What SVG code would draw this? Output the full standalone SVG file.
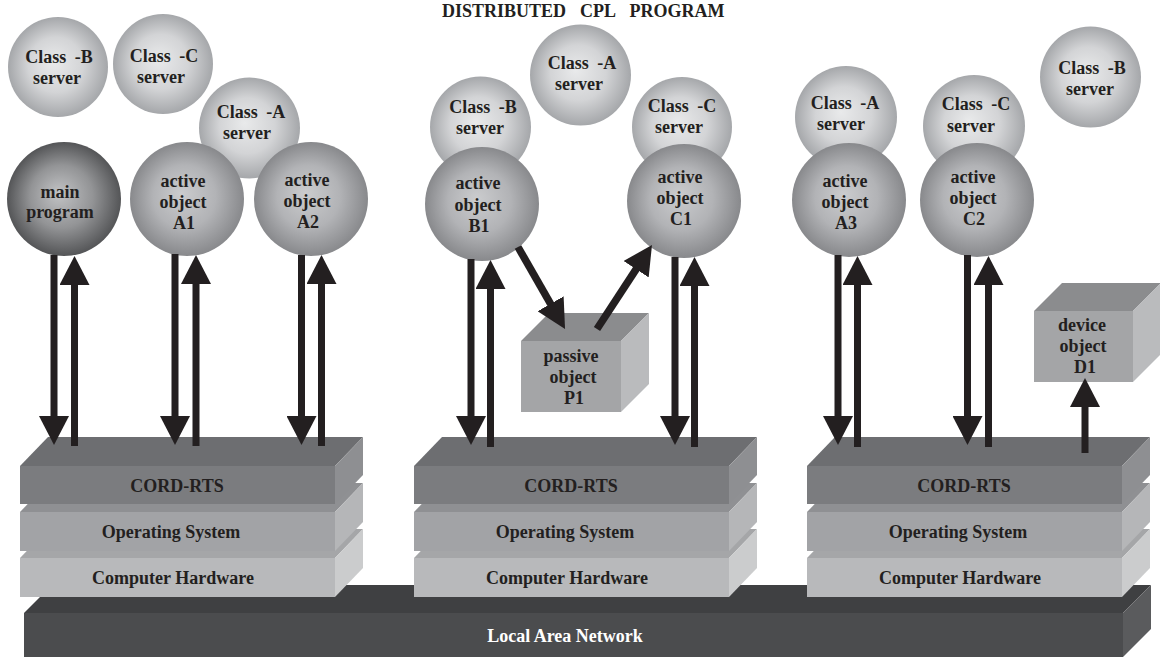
<svg xmlns="http://www.w3.org/2000/svg" width="1160" height="660" viewBox="0 0 1160 660">
<defs>
<radialGradient id="gSrv" cx="50%" cy="50%" r="50%" fx="45%" fy="45%">
<stop offset="0" stop-color="#e9eaeb"/><stop offset="0.55" stop-color="#d3d4d6"/><stop offset="1" stop-color="#a5a7aa"/>
</radialGradient>
<radialGradient id="gAct" cx="50%" cy="50%" r="50%" fx="45%" fy="45%">
<stop offset="0" stop-color="#cbccce"/><stop offset="0.55" stop-color="#b2b3b6"/><stop offset="1" stop-color="#88898c"/>
</radialGradient>
<radialGradient id="gMain" cx="50%" cy="50%" r="50%" fx="45%" fy="45%">
<stop offset="0" stop-color="#c2c3c5"/><stop offset="0.55" stop-color="#939496"/><stop offset="1" stop-color="#545557"/>
</radialGradient>
<marker id="ah" viewBox="0 0 29 30" markerWidth="29" markerHeight="30" refX="4" refY="15" orient="auto" markerUnits="userSpaceOnUse">
<path d="M0,0 L29,15 L0,30 z" fill="#231f20"/>
</marker>
</defs>
<style>
text{font-family:"Liberation Serif","Times New Roman",serif;font-weight:bold;font-size:18px;fill:#231f20;text-anchor:middle}
.cls{word-spacing:4px}
.srv{fill:url(#gSrv)}
.act{fill:url(#gAct)}
.main{fill:url(#gMain)}
.conn line{stroke:#231f20;stroke-width:7;marker-end:url(#ah)}
.cF{fill:#7b7c7f}.cT{fill:#6d6e71}.cS{fill:#8e8f92}
.oF{fill:#a2a3a6}.oT{fill:#8f9093}.oS{fill:#b5b6b8}
.hF{fill:#b8b9bb}.hT{fill:#a5a6a8}.hS{fill:#cbcccd}
.pF{fill:#a4a5a7}.pT{fill:#8b8c8e}.pS{fill:#babbbd}
</style>
<rect width="1160" height="660" fill="#fff"/>
<text id="title" x="580" y="17"><tspan x="504">DISTRIBUTED</tspan><tspan x="598">CPL</tspan><tspan x="677">PROGRAM</tspan></text>

<g id="lan">
<polygon points="24,613 1123,613 1151,585 52,585" fill="#3f4042"/>
<rect x="24" y="613" width="1099" height="44" fill="#4b4c4e"/>
<polygon points="1123,613 1151,585 1151,629 1123,657" fill="#5a5b5d"/>
<text x="565" y="642" style="fill:#ffffff">Local Area Network</text>
</g>

<g id="stack-left" transform="translate(20,0)">
<polygon class="hT" points="0,558 315,558 343,529 28,529"/><rect class="hF" x="0" y="558" width="315" height="39"/><polygon class="hS" points="315,558 343,529 343,568 315,597"/>
<polygon class="oT" points="0,512 315,512 343,483 28,483"/><rect class="oF" x="0" y="512" width="315" height="39"/><polygon class="oS" points="315,512 343,483 343,522 315,551"/>
<polygon class="cT" points="0,466 315,466 343,437 28,437"/><rect class="cF" x="0" y="466" width="315" height="38"/><polygon class="cS" points="315,466 343,437 343,475 315,504"/>
<text x="157" y="492">CORD-RTS</text><text x="151" y="538">Operating System</text><text x="153" y="584">Computer Hardware</text>
</g>
<g id="stack-mid" transform="translate(414,0)">
<polygon class="hT" points="0,558 315,558 343,529 28,529"/><rect class="hF" x="0" y="558" width="315" height="39"/><polygon class="hS" points="315,558 343,529 343,568 315,597"/>
<polygon class="oT" points="0,512 315,512 343,483 28,483"/><rect class="oF" x="0" y="512" width="315" height="39"/><polygon class="oS" points="315,512 343,483 343,522 315,551"/>
<polygon class="cT" points="0,466 315,466 343,437 28,437"/><rect class="cF" x="0" y="466" width="315" height="38"/><polygon class="cS" points="315,466 343,437 343,475 315,504"/>
<text x="157" y="492">CORD-RTS</text><text x="151" y="538">Operating System</text><text x="153" y="584">Computer Hardware</text>
</g>
<g id="stack-right" transform="translate(807,0)">
<polygon class="hT" points="0,558 315,558 343,529 28,529"/><rect class="hF" x="0" y="558" width="315" height="39"/><polygon class="hS" points="315,558 343,529 343,568 315,597"/>
<polygon class="oT" points="0,512 315,512 343,483 28,483"/><rect class="oF" x="0" y="512" width="315" height="39"/><polygon class="oS" points="315,512 343,483 343,522 315,551"/>
<polygon class="cT" points="0,466 315,466 343,437 28,437"/><rect class="cF" x="0" y="466" width="315" height="38"/><polygon class="cS" points="315,466 343,437 343,475 315,504"/>
<text x="157" y="492">CORD-RTS</text><text x="151" y="538">Operating System</text><text x="153" y="584">Computer Hardware</text>
</g>

<g id="srvB-left"><circle class="srv" cx="58" cy="67" r="50"/><text class="cls" x="59" y="63">Class -B</text><text x="57" y="84">server</text></g>
<g id="srvC-left"><circle class="srv" cx="163" cy="64" r="50"/><text class="cls" x="164" y="62">Class -C</text><text x="161" y="83">server</text></g>
<g id="srvA-left"><circle class="srv" cx="249.5" cy="128" r="50.5"/><text class="cls" x="251" y="118">Class -A</text><text x="247" y="139">server</text></g>
<g id="main-program"><circle class="main" cx="64" cy="199" r="57"/><text x="60" y="198">main</text><text x="60" y="218">program</text></g>
<g id="active-A1"><circle class="act" cx="187" cy="199" r="57"/><text x="183" y="187">active</text><text x="183" y="208">object</text><text x="184" y="229">A1</text></g>
<g id="active-A2"><circle class="act" cx="311" cy="199" r="57"/><text x="307" y="186">active</text><text x="307" y="207">object</text><text x="308" y="228">A2</text></g>

<g id="srvA-mid"><circle class="srv" cx="580.5" cy="75" r="50.5"/><text class="cls" x="582" y="69">Class -A</text><text x="579" y="90">server</text></g>
<g id="srvB-mid"><circle class="srv" cx="480.5" cy="127" r="50.5"/><text class="cls" x="483" y="113">Class -B</text><text x="480" y="134">server</text></g>
<g id="srvC-mid"><circle class="srv" cx="682" cy="127" r="50"/><text class="cls" x="682" y="112">Class -C</text><text x="679" y="133">server</text></g>
<g id="active-B1"><circle class="act" cx="482" cy="204" r="57"/><text x="478" y="189">active</text><text x="478" y="211">object</text><text x="479" y="232">B1</text></g>
<g id="active-C1"><circle class="act" cx="684" cy="201" r="57"/><text x="680" y="183">active</text><text x="680" y="204">object</text><text x="681" y="225">C1</text></g>
<g id="passive-P1">
<polygon class="pT" points="521,341 621,341 649,313 549,313"/><rect class="pF" x="521" y="341" width="100" height="71"/><polygon class="pS" points="621,341 649,313 649,384 621,412"/>
<text x="571" y="362">passive</text><text x="573" y="383">object</text><text x="574" y="404">P1</text>
</g>

<g id="srvA-right"><circle class="srv" cx="846" cy="117" r="51"/><text class="cls" x="845" y="109">Class -A</text><text x="841" y="130">server</text></g>
<g id="srvC-right"><circle class="srv" cx="974" cy="126" r="51"/><text class="cls" x="976" y="110">Class -C</text><text x="971" y="132">server</text></g>
<g id="srvB-right"><circle class="srv" cx="1090.5" cy="77" r="50.5"/><text class="cls" x="1092" y="74">Class -B</text><text x="1090" y="95">server</text></g>
<g id="active-A3"><circle class="act" cx="849" cy="200" r="57"/><text x="845" y="187">active</text><text x="845" y="208">object</text><text x="846" y="229">A3</text></g>
<g id="active-C2"><circle class="act" cx="977" cy="200" r="57"/><text x="973" y="183">active</text><text x="973" y="204">object</text><text x="974" y="225">C2</text></g>
<g id="device-D1">
<polygon class="pT" points="1034,311 1133,311 1161,283 1062,283"/><rect class="pF" x="1034" y="311" width="99" height="71"/><polygon class="pS" points="1133,311 1161,283 1161,354 1133,382"/>
<text x="1082" y="331">device</text><text x="1083" y="352">object</text><text x="1085" y="373">D1</text>
</g>

<g id="connectors" class="conn">
<line x1="54" y1="255" x2="54" y2="420"/>
<line x1="74.5" y1="446" x2="74.5" y2="281"/>
<line x1="175" y1="254" x2="175" y2="420"/>
<line x1="196" y1="446" x2="196" y2="280"/>
<line x1="301.5" y1="255" x2="301.5" y2="420"/>
<line x1="321.5" y1="446" x2="321.5" y2="280"/>
<line x1="471" y1="259" x2="471" y2="420"/>
<line x1="490.5" y1="447" x2="490.5" y2="285"/>
<line x1="675" y1="257" x2="675" y2="420"/>
<line x1="694.5" y1="447" x2="694.5" y2="282"/>
<line x1="838" y1="255" x2="838" y2="420"/>
<line x1="857.5" y1="447" x2="857.5" y2="281"/>
<line x1="967.5" y1="255" x2="967.5" y2="420"/>
<line x1="988.5" y1="447" x2="988.5" y2="281"/>
<line x1="1085" y1="453" x2="1085" y2="403"/>
<line x1="518" y1="247" x2="552.6" y2="307.3" style="stroke-width:7.5"/>
<line x1="597" y1="329" x2="638.3" y2="265.9" style="stroke-width:7.5"/>
</g>
</svg>
